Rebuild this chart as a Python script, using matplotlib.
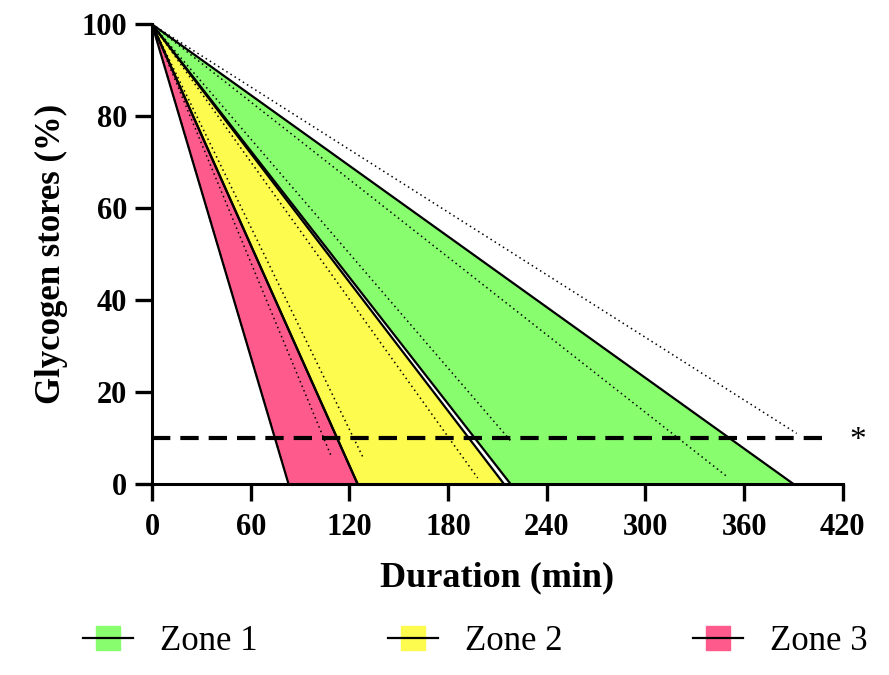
import matplotlib
matplotlib.use('Agg')
import matplotlib.pyplot as plt
from matplotlib.lines import Line2D
import numpy as np

plt.rcParams['font.family'] = ['Liberation Serif', 'DejaVu Serif']

# zones: glycogen falls linearly from 100 % at t=0 to 0 % at these durations (min)
zone_names = ['Zone 1', 'Zone 2', 'Zone 3']
zone_fast = [218, 125, 83]     # steepest edge of each band
zone_slow = [390, 214, 125]    # shallowest edge of each band
zone_colors = ['#88FD6E', '#FDFB4D', '#FE5B8C']

# dotted individual lines: end point (duration, glycogen %)
dot_end_x = [80, 109, 128, 198, 219, 350, 392]
dot_end_y = [3.7, 6, 6, 1.3, 9, 1.5, 11]

threshold = 10
x_ticks = [0, 60, 120, 180, 240, 300, 360, 420]
y_ticks = [0, 20, 40, 60, 80, 100]

fig = plt.figure(figsize=(8.89, 6.75), dpi=100)
ax = fig.add_axes([0.171, 0.283, 0.777, 0.681])

# ===== filled bands =====
for name, fast, slow, col in zip(zone_names, zone_fast, zone_slow, zone_colors):
    ax.fill([0, fast, slow], [100, 0, 0], color=col, lw=0, zorder=1)
    ax.plot([0, fast], [100, 0], color='black', lw=1.6, zorder=3)
    ax.plot([0, slow], [100, 0], color='black', lw=1.6, zorder=3)

# ===== dotted lines =====
for xe, ye in zip(dot_end_x, dot_end_y):
    ax.plot([0, xe], [100, ye], color='black', lw=1.1, linestyle=(0, (1, 2.2)), zorder=2)

# threshold
ax.plot([0, 412], [threshold, threshold], color='black', lw=3.0,
        dashes=(4.4, 2.4), zorder=4, clip_on=False)
ax.text(429, threshold - 0.6, '*', fontsize=24, ha='center', va='center', clip_on=False)

ax.set_xlim(0, 420)
ax.set_ylim(0, 100)
ax.set_xticks(x_ticks)
ax.set_yticks(y_ticks)
for s in ['top', 'right']:
    ax.spines[s].set_visible(False)
for s in ['left', 'bottom']:
    ax.spines[s].set_linewidth(2.2)
ax.tick_params(direction='out', length=12, width=2.4, labelsize=22)
ax.tick_params(axis='x', pad=9)
ax.tick_params(axis='y', pad=6)
for lab in ax.get_xticklabels() + ax.get_yticklabels():
    lab.set_fontweight('bold')

ax.set_xlabel('Duration (min)', fontsize=26, fontweight='bold', labelpad=14)
ax.set_ylabel('Glycogen stores (%)', fontsize=25, fontweight='bold', labelpad=10)

handles = [(Line2D([], [], marker='s', markersize=17, markerfacecolor=c,
                   markeredgecolor=c, linestyle='none'),
            Line2D([], [], color='black', lw=1.6))
           for c in zone_colors]
fig.legend(handles, zone_names, loc='center left', bbox_to_anchor=(83 / 889, 0.049),
           ncol=3, frameon=False, fontsize=25, handlelength=1.44,
           handletextpad=0.78, columnspacing=3.75, borderpad=0, borderaxespad=0)

plt.savefig('out.png', dpi=100)
